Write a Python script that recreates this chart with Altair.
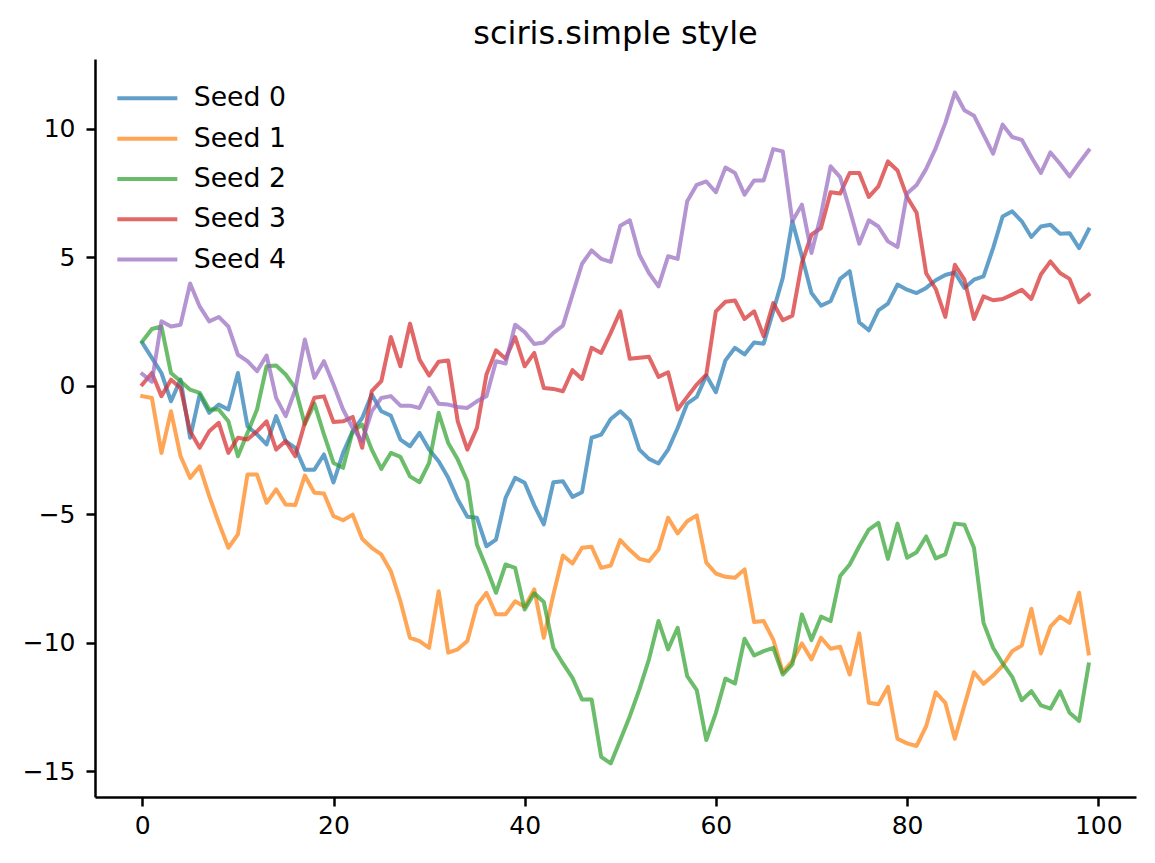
import altair as alt
import pandas as pd

steps = list(range(100))
series_names = ["Seed 0", "Seed 1", "Seed 2", "Seed 3", "Seed 4"]
colors = ["#1f77b4", "#ff7f0e", "#2ca02c", "#d62728", "#9467bd"]

seed0 = [1.66, 1.08, 0.49, -0.61, 0.23, -2.03, -0.35, -1.06, -0.74, -0.93,
         0.49, -1.58, -1.9, -2.29, -1.19, -2.16, -2.42, -3.27, -3.27, -2.68,
         -3.77, -2.62, -1.78, -1.26, -0.35, -1.0, -1.17, -2.1, -2.36, -1.84,
         -2.49, -2.94, -3.59, -4.43, -5.1, -5.14, -6.25, -5.99, -4.37, -3.59,
         -3.78, -4.66, -5.4, -3.76, -3.72, -4.33, -4.15, -2.03, -1.91, -1.3,
         -1.0, -1.35, -2.49, -2.85, -3.03, -2.49, -1.65, -0.7, -0.44, 0.39,
         -0.26, 0.98, 1.47, 1.21, 1.68, 1.63, 2.89, 4.19, 6.39, 5.03,
         3.6, 3.11, 3.28, 4.15, 4.45, 2.46, 2.15, 2.93, 3.19, 3.93,
         3.73, 3.6, 3.8, 4.1, 4.3, 4.4, 3.8, 4.12, 4.25, 5.35,
         6.58, 6.78, 6.39, 5.78, 6.19, 6.26, 5.91, 5.93, 5.35, 6.07]

seed1 = [-0.41, -0.48, -2.62, -1.0, -2.75, -3.59, -3.14, -4.3, -5.34, -6.31,
         -5.79, -3.46, -3.46, -4.56, -4.04, -4.63, -4.65, -3.5, -4.17, -4.2,
         -5.08, -5.24, -5.02, -5.96, -6.31, -6.57, -7.22, -8.39, -9.81, -9.94,
         -10.2, -8.0, -10.39, -10.26, -9.94, -8.55, -8.06, -8.9, -8.9, -8.39,
         -8.6, -7.93, -9.81, -8.13, -6.61, -6.92, -6.31, -6.27, -7.09, -7.0,
         -6.01, -6.4, -6.74, -6.83, -6.38, -5.14, -5.75, -5.28, -5.05, -6.89,
         -7.31, -7.44, -7.48, -7.15, -9.2, -9.16, -9.88, -11.15, -10.72, -10.03,
         -10.65, -9.81, -10.24, -10.16, -11.24, -9.64, -12.34, -12.4, -11.72, -13.74,
         -13.92, -14.02, -13.25, -11.93, -12.34, -13.74, -12.44, -11.15, -11.6, -11.28,
         -10.89, -10.33, -10.11, -8.68, -10.42, -9.38, -8.99, -9.23, -8.06, -10.42]

seed2 = [1.72, 2.2, 2.3, 0.49, 0.17, -0.16, -0.28, -0.93, -0.93, -1.39,
         -2.75, -1.84, -0.93, 0.75, 0.78, 0.43, -0.09, -1.5, -0.7, -1.9,
         -3.01, -3.2, -1.78, -1.52, -2.49, -3.24, -2.62, -2.77, -3.53, -3.76,
         -3.01, -1.06, -2.23, -2.88, -3.72, -6.18, -7.09, -8.06, -6.96, -7.09,
         -8.71, -8.08, -8.42, -10.2, -10.81, -11.37, -12.21, -12.21, -14.44, -14.7,
         -13.79, -12.86, -11.82, -10.65, -9.16, -10.26, -9.42, -11.3, -11.85, -13.79,
         -12.73, -11.4, -11.59, -9.85, -10.5, -10.33, -10.2, -11.24, -10.85, -8.9,
         -9.9, -8.99, -9.16, -7.41, -6.96, -6.25, -5.6, -5.34, -6.74, -5.37,
         -6.7, -6.48, -5.87, -6.72, -6.57, -5.37, -5.41, -6.31, -9.23, -10.2,
         -10.81, -11.33, -12.24, -11.89, -12.44, -12.57, -11.89, -12.73, -13.05, -10.85]

seed3 = [0.04, 0.49, -0.41, 0.23, -0.09, -1.78, -2.42, -1.78, -1.45, -2.62,
         -2.03, -2.1, -1.78, -1.39, -2.49, -2.16, -2.75, -1.45, -0.47, -0.42,
         -1.42, -1.39, -1.22, -2.42, -0.22, 0.17, 1.89, 0.75, 2.41, 1.01,
         0.39, 0.93, 0.98, -1.39, -2.49, -1.65, 0.43, 1.37, 1.04, 1.89,
         0.75, 1.27, -0.09, -0.13, -0.22, 0.6, 0.26, 1.47, 1.27, 2.05,
         2.89, 1.04, 1.08, 1.12, 0.34, 0.52, -0.93, -0.44, 0.04, 0.43,
         2.89, 3.26, 3.31, 2.59, 2.89, 1.92, 3.21, 2.54, 2.72, 4.77,
         5.87, 6.13, 7.52, 7.47, 8.27, 8.27, 7.34, 7.75, 8.72, 8.37,
         7.34, 6.72, 4.37, 3.76, 2.67, 4.7, 4.12, 2.59, 3.47, 3.32,
         3.37, 3.54, 3.73, 3.37, 4.32, 4.83, 4.38, 4.15, 3.24, 3.54]

seed4 = [0.45, 0.15, 2.5, 2.3, 2.37, 3.97, 3.08, 2.5, 2.67, 2.3,
         1.2, 0.95, 0.56, 1.17, -0.48, -1.19, -0.16, 1.79, 0.3, 0.95,
         0.04, -0.93, -1.65, -2.16, -1.0, -0.48, -0.41, -0.78, -0.78, -0.87,
         -0.09, -0.71, -0.74, -0.83, -0.87, -0.61, -0.41, 0.95, 0.86, 2.37,
         2.08, 1.62, 1.68, 2.05, 2.33, 3.54, 4.74, 5.26, 4.93, 4.81,
         6.22, 6.43, 5.09, 4.38, 3.86, 5.03, 4.93, 7.17, 7.81, 7.94,
         7.52, 8.48, 8.27, 7.43, 7.98, 7.98, 9.2, 9.11, 6.39, 7.04,
         5.16, 6.65, 8.53, 8.11, 6.84, 5.52, 6.43, 6.19, 5.61, 5.39,
         7.47, 7.8, 8.43, 9.24, 10.21, 11.4, 10.71, 10.5, 9.76, 9.02,
         10.15, 9.67, 9.56, 8.89, 8.27, 9.07, 8.63, 8.14, 8.66, 9.15]

x_ticks = [0, 20, 40, 60, 80, 100]
y_ticks = [-15, -10, -5, 0, 5, 10]

all_series = [seed0, seed1, seed2, seed3, seed4]
rows = []
for name, vals in zip(series_names, all_series):
    for s, v in zip(steps, vals):
        rows.append({"step": s, "value": v, "series": name})
df = pd.DataFrame(rows)

FONT = "DejaVu Sans"

chart = alt.Chart(df).mark_line(
    strokeWidth=4, opacity=0.7, strokeJoin="round", strokeCap="square"
).encode(
    x=alt.X("step:Q",
            scale=alt.Scale(domain=[-4.95, 103.95], nice=False, zero=False),
            axis=alt.Axis(values=x_ticks, title=None, grid=False, labelPadding=7)),
    y=alt.Y("value:Q",
            scale=alt.Scale(domain=[-16.005, 12.705], nice=False, zero=False),
            axis=alt.Axis(values=y_ticks, title=None, grid=False, labelPadding=11)),
    color=alt.Color("series:N",
                    scale=alt.Scale(domain=series_names, range=colors),
                    legend=alt.Legend(title=None, orient="none", legendX=39, legendY=26,
                                      symbolType="M-3,0L3,0", symbolSize=400,
                                      symbolStrokeWidth=4, symbolOpacity=0.7,
                                      labelFont=FONT, labelFontSize=26.7, labelColor="black",
                                      rowPadding=12.3, labelOffset=33, padding=0)),
).properties(
    width=1041,
    height=738,
    title=alt.Title("sciris.simple style", font=FONT, fontSize=32, fontWeight="normal",
                    color="black", anchor="middle", baseline="alphabetic", offset=16, dy=33),
    padding={"left": 87, "top": 51, "right": 11, "bottom": 57},
    autosize="none",
).configure_view(
    stroke="transparent"
).configure_axis(
    domainColor="black", domainWidth=2.5, tickColor="black", tickWidth=2.5, tickSize=9,
    labelFont=FONT, labelFontSize=25, labelColor="black"
)

chart.save("out.html", embed_options={"renderer": "svg", "actions": False})
